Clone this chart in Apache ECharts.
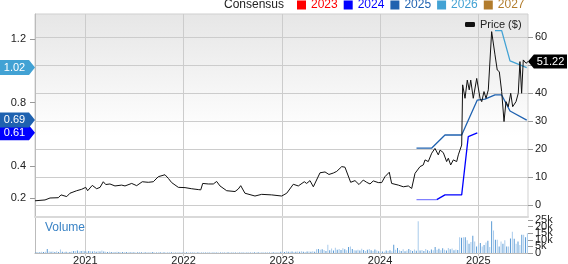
<!DOCTYPE html>
<html><head><meta charset="utf-8">
<script src="https://cdn.jsdelivr.net/npm/echarts@6/dist/echarts.min.js"></script>
<style>html,body{margin:0;padding:0;background:#fff}#c{width:568px;height:264px}</style>
</head><body><div id="c"></div>
<script>
// ---- data ----
const X_MIN = 2020.488, X_MAX = 2025.506;
const yearTicks = [2021, 2022, 2023, 2024, 2025];
const priceTicks = [0, 10, 20, 30, 40, 50, 60];
const epsTicks = [0.2, 0.4, 0.8, 1.2];
const volTickGroups = [[0, 15], [5, 20], [10, 25]];
const legendYears = ['2023', '2024', '2025', '2026', '2027'];
const legendColors = ['#ff0000', '#0000ff', '#1f62b0', '#42a2d4', '#b27c2c'];

const priceYears = [2020.488,2020.590,2020.641,2020.725,2020.753,2020.811,2020.844,2020.912,2020.963,2021.004,
2021.024,2021.071,2021.116,2021.150,2021.183,2021.208,2021.251,2021.302,2021.370,2021.404,
2021.472,2021.523,2021.580,2021.641,2021.692,2021.743,2021.811,2021.845,2021.879,2021.947,
2022.015,2022.083,2022.150,2022.175,2022.195,2022.252,2022.303,2022.337,2022.371,2022.439,
2022.524,2022.557,2022.582,2022.625,2022.727,2022.795,2022.897,2022.999,2023.050,2023.117,
2023.168,2023.229,2023.253,2023.287,2023.321,2023.389,2023.440,2023.480,2023.524,2023.559,
2023.610,2023.643,2023.701,2023.745,2023.786,2023.829,2023.864,2023.898,2023.931,2023.982,
2024.017,2024.050,2024.094,2024.118,2024.186,2024.237,2024.288,2024.322,2024.356,2024.407,
2024.440,2024.458,2024.491,2024.526,2024.559,2024.593,2024.611,2024.644,2024.678,2024.695,
2024.719,2024.746,2024.780,2024.797,2024.831,2024.841,2024.865,2024.888,2024.908,2024.923,
2024.949,2024.984,2025.018,2025.035,2025.058,2025.079,2025.102,2025.136,2025.170,2025.193,
2025.214,2025.238,2025.262,2025.282,2025.305,2025.330,2025.350,2025.384,2025.407,2025.424,
2025.441,2025.458,2025.486,2025.506];
const priceValues = [1.5,1.8,2.5,2.6,3.6,3.0,4.2,5.1,5.6,6.3,
5.1,7.0,5.8,6.3,8.3,7.3,7.5,6.8,7.1,6.8,
7.7,6.9,8.3,8.1,8.3,10.1,10.8,9.5,8.0,6.3,
6.2,5.8,5.5,5.4,7.7,7.5,7.5,8.4,6.8,5.1,
4.8,5.7,6.9,4.2,3.2,3.8,3.6,3.2,4.2,7.4,
6.8,8.3,7.7,8.7,6.5,11.5,11.8,10.9,11.4,12.0,
13.7,13.5,8.1,8.7,7.3,8.9,8.1,7.5,8.6,8.0,
8.0,10.1,11.7,7.7,7.1,6.5,6.8,5.9,11.3,13.7,
14.3,16.1,15.5,18.5,20.2,17.9,19.6,18.7,15.5,16.7,
14.3,16.1,15.5,17.9,21.4,42.9,38.1,44.6,41.1,44.6,
38.1,45.2,38.1,36.9,40.5,38.1,41.1,61.9,53.6,48.2,
47.6,40.5,29.8,36.9,35.1,39.9,35.1,36.9,39.9,51.2,
39.9,51.8,50.6,51.22];
const lastPrice = 51.22;

const est2024OldYears = [2024.371, 2024.577];
const est2024OldValues = [0.19, 0.19];
const est2024Years = [2024.577, 2024.661, 2024.831, 2024.898, 2024.990];
const est2024Values = [0.19, 0.22, 0.22, 0.586, 0.61];
const est2025Years = [2024.371, 2024.524, 2024.661, 2024.831, 2024.990, 2025.068, 2025.170, 2025.238, 2025.323, 2025.493];
const est2025Values = [0.513, 0.513, 0.596, 0.596, 0.816, 0.822, 0.848, 0.848, 0.747, 0.69];
const est2026Years = [2025.170, 2025.238, 2025.323, 2025.493];
const est2026Values = [1.252, 1.252, 1.062, 1.02];

// weekly volume (thousands), last week ends at 2025.50
const volumeValues = [0.6,0.8,0.5,0.9,0.7,1.0,3.0,1.2,0.9,1.1,0.7,1.3,0.8,2.6,0.9,0.7,1.0,0.6,0.8,1.1,
1.6,1.3,1.8,1.2,1.5,1.7,1.4,1.1,1.6,1.3,1.2,1.5,1.0,1.4,1.2,1.9,1.1,
0.9,0.8,1.0,0.7,0.8,0.6,0.9,0.7,0.5,0.8,
0.6,0.7,0.5,0.6,0.8,0.5,0.4,0.6,0.7,0.5,
0.4,0.5,0.6,0.4,0.5,0.7,0.4,0.3,0.5,0.6,
0.4,0.5,0.3,0.4,0.6,0.5,0.3,0.4,0.5,0.4,
0.6,0.3,0.4,0.5,0.3,0.4,0.7,0.4,0.3,0.5,
0.4,0.3,0.5,0.4,0.6,0.3,0.4,0.3,0.5,0.4,
0.3,0.4,0.5,0.3,0.4,0.6,0.3,0.4,0.5,0.3,
0.4,0.3,0.5,0.4,0.3,0.4,0.6,0.4,0.3,0.5,
0.4,0.5,0.3,0.4,0.6,0.4,0.5,0.3,0.4,0.5,
0.6,0.4,0.5,
0.9,1.1,0.8,1.3,1.0,0.9,1.2,0.8,1.0,1.1,0.9,1.3,1.0,0.8,1.2,1.1,0.9,1.4,1.0,
2.8,3.0,2.5,2.9,2.2,1.5,6.3,2.0,3.5,1.8,4.0,2.5,3.0,2.2,3.6,2.8,2.0,4.5,5.0,3.0,
2.0,1.8,2.5,1.9,3.3,2.2,1.6,2.4,3.1,2.0,1.5,2.6,1.8,1.4,1.2,
1.2,1.0,1.8,1.5,2.0,1.3,6.3,2.5,3.8,2.0,1.6,2.8,1.4,1.9,3.1,2.2,1.5,2.6,1.7,24.0,
1.8,2.3,1.5,3.0,2.1,1.6,2.7,2.0,4.5,2.5,3.2,2.0,3.6,2.4,1.8,3.8,2.9,3.4,2.1,2.7,2.3,
12.0,11.5,12.0,12.0,9.6,7.0,8.3,13.0,8.8,5.0,6.3,7.5,5.0,6.0,8.0,9.3,4.5,24.0,17.0,10.0,
10.0,5.0,8.8,7.0,9.6,5.0,5.0,11.0,16.0,10.8,7.0,8.8,6.0,13.9,13.9,12.0,15.0];
const VOL_END = 2025.50;

// ---- build ----
const zip = (xs, ys) => xs.map((x, i) => [x, ys[i]]);
const WEEK = 7 / 365.25;
const volData = volumeValues.map((v, i) => [VOL_END - (volumeValues.length - 1 - i) * WEEK, v]);
const FONT = '"Liberation Sans", Arial, sans-serif';
const TXT = '#222';
const VOL_MAX = 26.5;

const chart = echarts.init(document.getElementById('c'), null, {renderer: 'canvas'});
const leftBadge = 'path://M0,0 L29,0 L35,7.5 L29,15 L0,15 Z';
const rightBadge = 'path://M0,7 L6,0 L40,0 L40,14 L6,14 Z';
function badge(value, color, text) {
  return {
    symbol: leftBadge, symbolSize: [35, 15], symbolOffset: [-17.5, 0], symbolKeepAspect: false,
    data: [{coord: [X_MIN, value], itemStyle: {color: color},
      label: {show: true, position: 'inside', formatter: text, color: '#fff', fontSize: 11, fontFamily: FONT, offset: [-3, 0]}}],
    animation: false
  };
}
const volAxes = volTickGroups.map(ticks => ({
  gridIndex: 1, position: 'right', type: 'value', min: 0, max: VOL_MAX,
  axisLine: {show: false},
  axisTick: {show: true, length: 5, customValues: ticks, lineStyle: {color: '#999'}},
  axisLabel: {customValues: ticks, margin: 7, fontSize: 11, color: TXT, fontFamily: FONT,
    showMinLabel: true, showMaxLabel: true, hideOverlap: false,
    formatter: v => v === 0 ? '0' : v + 'k'},
  splitLine: {show: false}
}));

const option = {
  animation: false,
  textStyle: {fontFamily: FONT},
  title: [
    {text: 'Consensus', left: 224, top: -1, padding: 0, textStyle: {fontSize: 12, fontWeight: 'normal', color: TXT, fontFamily: FONT}},
    {text: 'Volume', left: 45, top: 222, padding: 0, textStyle: {fontSize: 12, fontWeight: 'normal', color: '#3a83c5', fontFamily: FONT}}
  ],
  legend: [
    {left: 297, top: -1, padding: 0, itemWidth: 9, itemHeight: 9, itemGap: 6, icon: 'rect', selectedMode: false,
      data: legendYears.map((n, i) => ({name: n, itemStyle: {color: legendColors[i]}, textStyle: {color: legendColors[i]}})),
      textStyle: {fontSize: 12, fontFamily: FONT}},
    {left: 465, top: 19, padding: 0, itemWidth: 10, itemHeight: 5, icon: 'roundRect', selectedMode: false,
      data: ['Price ($)'], textStyle: {fontSize: 11, color: TXT, fontFamily: FONT}}
  ],
  grid: [
    {left: 35, top: 14, width: 493, height: 203, show: true, borderColor: '#cfcfcf', borderWidth: 1,
      containLabel: false, outerBoundsMode: 'none',
      backgroundColor: new echarts.graphic.LinearGradient(0, 0, 0, 1, [
        {offset: 0, color: '#e6e6e6'}, {offset: 0.6, color: '#ffffff'}, {offset: 1, color: '#ffffff'}])},
    {left: 35, top: 218, width: 493, height: 35, containLabel: false, outerBoundsMode: 'none'}
  ],
  xAxis: [
    {gridIndex: 0, type: 'value', min: X_MIN, max: X_MAX,
      axisLine: {show: true, onZero: false, lineStyle: {color: '#d9d9d9', width: 2}},
      axisTick: {show: false, customValues: yearTicks}, axisLabel: {show: false, customValues: yearTicks},
      splitLine: {show: true, lineStyle: {color: '#cccccc'}}},
    {gridIndex: 1, type: 'value', min: X_MIN, max: X_MAX,
      axisLine: {show: true, onZero: false, lineStyle: {color: '#bbbbbb'}},
      axisTick: {show: true, length: 3, customValues: yearTicks, lineStyle: {color: '#cccccc'}},
      axisLabel: {customValues: yearTicks, margin: 2, fontSize: 11, color: TXT, fontFamily: FONT, formatter: v => String(v)},
      splitLine: {show: true, lineStyle: {color: '#cccccc'}}}
  ],
  yAxis: [
    {gridIndex: 0, position: 'left', type: 'value', min: 0.0805, max: 1.357,
      axisLine: {show: true, lineStyle: {color: '#bbbbbb'}},
      axisTick: {show: true, length: 5, customValues: epsTicks, lineStyle: {color: '#999'}},
      axisLabel: {customValues: epsTicks, margin: 9, fontSize: 11, color: TXT, fontFamily: FONT, formatter: v => v.toFixed(1)},
      splitLine: {show: false}},
    {gridIndex: 0, position: 'right', type: 'value', min: -4.29, max: 68.2,
      axisLine: {show: false},
      axisTick: {show: true, length: 5, customValues: priceTicks, lineStyle: {color: '#999'}},
      axisLabel: {customValues: priceTicks, margin: 7, fontSize: 11, color: TXT, fontFamily: FONT},
      splitLine: {show: true, lineStyle: {color: '#cccccc'}}},
    {gridIndex: 1, position: 'left', type: 'value', min: 0, max: VOL_MAX,
      axisLine: {show: true, lineStyle: {color: '#bbbbbb'}}, axisTick: {show: false}, axisLabel: {show: false}, splitLine: {show: false}}
  ].concat(volAxes),
  series: [
    {name: '2023', type: 'line', xAxisIndex: 0, yAxisIndex: 0, data: [], color: legendColors[0]},
    {name: 'old2024', type: 'line', xAxisIndex: 0, yAxisIndex: 0, showSymbol: false, data: zip(est2024OldYears, est2024OldValues),
      lineStyle: {color: '#8080ff', width: 1.3}, color: '#8080ff', z: 3},
    {name: '2024', type: 'line', xAxisIndex: 0, yAxisIndex: 0, showSymbol: false, data: zip(est2024Years, est2024Values),
      lineStyle: {color: legendColors[1], width: 1.3}, color: legendColors[1], z: 3,
      markPoint: badge(0.61, legendColors[1], '0.61')},
    {name: '2025', type: 'line', xAxisIndex: 0, yAxisIndex: 0, showSymbol: false, data: zip(est2025Years, est2025Values),
      lineStyle: {color: legendColors[2], width: 1.3}, color: legendColors[2], z: 3,
      markPoint: badge(0.69, legendColors[2], '0.69')},
    {name: '2026', type: 'line', xAxisIndex: 0, yAxisIndex: 0, showSymbol: false, data: zip(est2026Years, est2026Values),
      lineStyle: {color: legendColors[3], width: 1.3}, color: legendColors[3], z: 3,
      markPoint: badge(1.02, legendColors[3], '1.02')},
    {name: '2027', type: 'line', xAxisIndex: 0, yAxisIndex: 0, data: [], color: legendColors[4]},
    {name: 'Price ($)', type: 'line', xAxisIndex: 0, yAxisIndex: 1, showSymbol: false, data: zip(priceYears, priceValues),
      lineStyle: {color: '#111', width: 1}, color: '#111', z: 4,
      markPoint: {symbol: rightBadge, symbolSize: [39, 14], symbolOffset: [19.5, 0], symbolKeepAspect: false,
        data: [{coord: [X_MAX, lastPrice], itemStyle: {color: '#000'},
          label: {show: true, position: 'inside', formatter: lastPrice.toFixed(2), color: '#fff', fontSize: 11, fontFamily: FONT, offset: [3, 0]}}]}},
    {name: 'Volume', type: 'bar', xAxisIndex: 1, yAxisIndex: 3, data: volData, barWidth: 1,
      itemStyle: {color: p => (p.dataIndex % 2 ? '#a9cbec' : '#5b9bd5')}}
  ]
};
chart.setOption(option);
</script>
</body></html>
